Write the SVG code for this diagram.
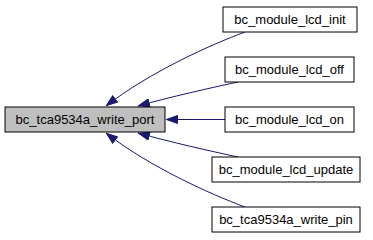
<svg xmlns="http://www.w3.org/2000/svg" width="373" height="240" viewBox="0 0 373 240">
  <style>
    .node rect { stroke: #000000; stroke-width: 1; }
    .node text { font-family: "Liberation Sans", Arial, Helvetica, sans-serif; font-size: 13px; text-anchor: middle; fill: #000000; }
    .edge { fill: none; stroke: #191970; stroke-width: 1; }
  </style>
  <defs>
    <marker id="arrow" viewBox="0 0 12 9" markerWidth="12" markerHeight="9" refX="12" refY="4.5" orient="auto" markerUnits="userSpaceOnUse">
      <path d="M0.5,0.5 L11.5,4.5 L0.5,8.5 z" fill="#191970" stroke="#191970"/>
    </marker>
  </defs>

  <!-- call edges: callers point back to bc_tca9534a_write_port -->
  <g id="edges">
    <path class="edge" marker-end="url(#arrow)" d="M245,32 C210,45 150,72 106,106"/>
    <path class="edge" marker-end="url(#arrow)" d="M238,82 C210,88 170,97 138,106"/>
    <path class="edge" marker-end="url(#arrow)" d="M225,119.5 L166,119.5"/>
    <path class="edge" marker-end="url(#arrow)" d="M238,157 C210,151 170,142 138,133"/>
    <path class="edge" marker-end="url(#arrow)" d="M245,207 C210,194 150,167 106,133"/>
  </g>

  <g id="node-write-port" class="node">
    <rect x="5" y="107" width="160" height="25" fill="#bfbfbf"/>
    <text x="85" y="124">bc_tca9534a_write_port</text>
  </g>
  <g id="node-lcd-init" class="node">
    <rect x="223" y="7" width="134" height="25" fill="#ffffff"/>
    <text x="290" y="24">bc_module_lcd_init</text>
  </g>
  <g id="node-lcd-off" class="node">
    <rect x="225" y="57" width="129" height="25" fill="#ffffff"/>
    <text x="289.5" y="74">bc_module_lcd_off</text>
  </g>
  <g id="node-lcd-on" class="node">
    <rect x="225" y="107" width="129" height="25" fill="#ffffff"/>
    <text x="289.5" y="124">bc_module_lcd_on</text>
  </g>
  <g id="node-lcd-update" class="node">
    <rect x="212" y="157" width="148" height="25" fill="#ffffff"/>
    <text x="286" y="174">bc_module_lcd_update</text>
  </g>
  <g id="node-write-pin" class="node">
    <rect x="212" y="207" width="148" height="25" fill="#ffffff"/>
    <text x="286" y="224">bc_tca9534a_write_pin</text>
  </g>
</svg>
